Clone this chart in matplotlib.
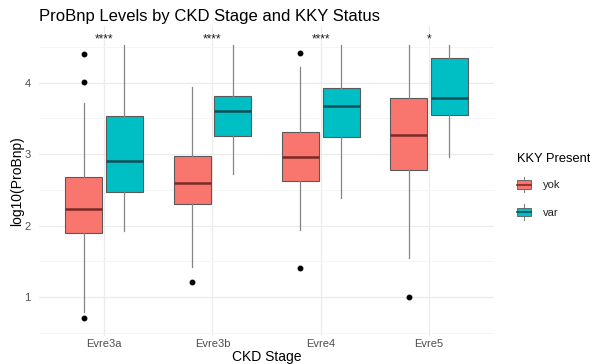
import matplotlib
matplotlib.use('Agg')
import matplotlib.pyplot as plt
from matplotlib.legend_handler import HandlerBase
from matplotlib.patches import Rectangle, Patch
from matplotlib.lines import Line2D

plt.rcParams['font.family'] = ['Liberation Sans', 'DejaVu Sans']

# CKD stages and KKY groups
stages = ['Evre3a', 'Evre3b', 'Evre4', 'Evre5']
groups = ['yok', 'var']
group_colors = ['#F8766D', '#00BFC4']
median_colors = ['#7A2A26', '#0F4E58']

# box summaries of log10(ProBnp) per stage, KKY absent
yok_whislo = [0.79, 1.42, 1.94, 1.55]
yok_q1 = [1.90, 2.30, 2.63, 2.78]
yok_med = [2.23, 2.60, 2.96, 3.27]
yok_q3 = [2.68, 2.98, 3.31, 3.78]
yok_whishi = [3.72, 3.94, 4.22, 4.53]
yok_fliers = [[0.70, 4.01, 4.40], [1.21], [1.41, 4.41], [1.00]]

# KKY present
var_whislo = [1.93, 2.72, 2.38, 2.96]
var_q1 = [2.47, 3.25, 3.24, 3.55]
var_med = [2.90, 3.60, 3.68, 3.78]
var_q3 = [3.54, 3.82, 3.92, 4.34]
var_whishi = [4.53, 4.53, 4.53, 4.53]
var_fliers = [[], [], [], []]

# significance of yok vs var within each stage
signif = ['****', '****', '****', '*']
signif_y = 4.56


def make_stats(whislo, q1, med, q3, whishi, fliers):
    return [dict(whislo=a, q1=b, med=c, q3=d, whishi=e, fliers=f)
            for a, b, c, d, e, f in zip(whislo, q1, med, q3, whishi, fliers)]


all_stats = [
    make_stats(yok_whislo, yok_q1, yok_med, yok_q3, yok_whishi, yok_fliers),
    make_stats(var_whislo, var_q1, var_med, var_q3, var_whishi, var_fliers),
]


class BoxKey(HandlerBase):
    # legend key drawn like a small boxplot
    def __init__(self, median_color):
        super().__init__()
        self.median_color = median_color

    def create_artists(self, legend, orig_handle, xdescent, ydescent,
                       width, height, fontsize, trans):
        x0, y0 = -xdescent, -ydescent
        cx = x0 + width / 2
        whisk = Line2D([cx, cx], [y0, y0 + height], color='#808080', lw=0.8,
                       transform=trans)
        box = Rectangle((x0, y0 + height * 0.22), width, height * 0.56,
                        facecolor=orig_handle.get_facecolor(),
                        edgecolor='#5A5A5A', lw=0.6, transform=trans)
        med = Line2D([x0, x0 + width], [y0 + height / 2] * 2,
                     color=self.median_color, lw=1.2, transform=trans)
        return [whisk, box, med]


W, H = 590, 364
fig = plt.figure(figsize=(W / 100, H / 100), dpi=100)
ax = fig.add_axes([39 / W, 1 - 336.2 / H, 455.2 / W, 310.6 / H])

x = list(range(1, len(stages) + 1))
offsets = [-0.1875, 0.1875]
for stats, off, fc, mc in zip(all_stats, offsets, group_colors, median_colors):
    ax.bxp(stats, positions=[p + off for p in x], widths=0.34,
           patch_artist=True, showcaps=False, manage_ticks=False,
           boxprops=dict(facecolor=fc, edgecolor='#5A5A5A', lw=0.8),
           medianprops=dict(color=mc, lw=1.8),
           whiskerprops=dict(color='#858585', lw=0.9),
           flierprops=dict(marker='o', markerfacecolor='black',
                           markeredgecolor='black', markersize=3.2))

for p, s in zip(x, signif):
    ax.text(p, signif_y, s, ha='center', va='baseline', fontsize=8.5,
            color='#222222')

ax.set_xlim(0.4, 4.6)
ax.set_ylim(0.45, 4.8)
ax.set_xticks(x)
ax.set_xticklabels(stages)
ax.set_yticks([1, 2, 3, 4])
ax.set_yticks([0.5, 1.5, 2.5, 3.5, 4.5], minor=True)
ax.set_axisbelow(True)
ax.grid(which='major', color='#EBEBEB', lw=0.9)
ax.grid(which='minor', axis='y', color='#F4F4F4', lw=0.6)
for sp in ax.spines.values():
    sp.set_visible(False)
ax.tick_params(which='both', length=0, labelsize=8, labelcolor='#4D4D4D')
ax.tick_params(axis='y', pad=6)
ax.tick_params(axis='x', pad=2)
ax.set_xlabel('CKD Stage', fontsize=10, color='black', labelpad=0.5)
ax.set_ylabel('log10(ProBnp)', fontsize=10, color='black', labelpad=0)

fig.text(39 / W, 1 - 20.7 / H, 'ProBnp Levels by CKD Stage and KKY Status',
         fontsize=12, ha='left', va='baseline')

handles = [Patch(facecolor=c) for c in group_colors]
leg = fig.legend(handles, groups, loc='upper left',
                 bbox_to_anchor=(516.7 / W, 1 - 153 / H), frameon=False,
                 title='KKY Present', title_fontsize=9.3, fontsize=8,
                 alignment='left', borderpad=0, borderaxespad=0,
                 handlelength=1.3, handleheight=1.8, handletextpad=1.05,
                 labelspacing=1.05,
                 handler_map={handles[0]: BoxKey(median_colors[0]),
                              handles[1]: BoxKey(median_colors[1])})
for t in leg.get_texts():
    t.set_color('#222222')

fig.savefig('out.png', dpi=100)
